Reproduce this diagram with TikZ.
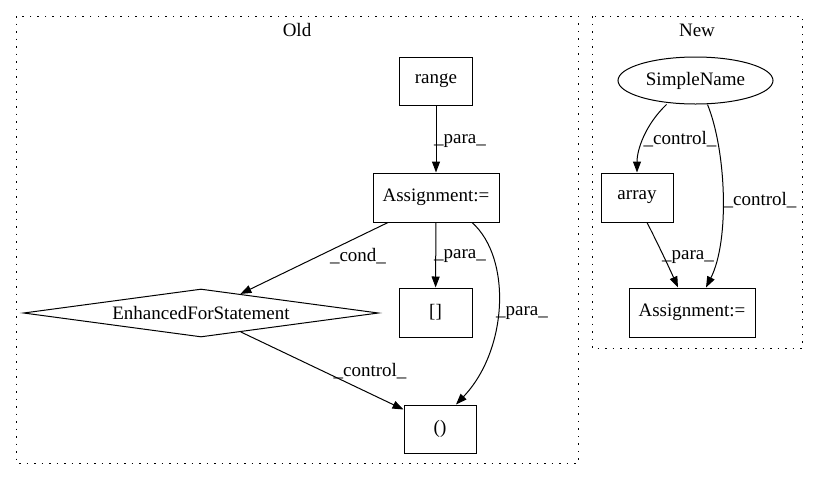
\documentclass[tikz,border=0pt]{standalone}
\usepackage{fontspec}
\setmainfont{Liberation Serif}
\usetikzlibrary{shapes.geometric,arrows.meta,calc}
\begin{document}
\begin{tikzpicture}[x=1pt,y=-1pt,
  every node/.style={font=\fontsize{19}{22}\selectfont, inner sep=0pt},
  box/.style={draw, line width=1pt, rectangle},
  cluster/.style={draw, line width=1pt, dash pattern=on 1.5pt off 6pt},
  arr/.style={draw, line width=1pt, -{Triangle[length=11pt,width=8pt]}},
  lbl/.style={fill=none}]
\useasboundingbox (0,0) rectangle (817,480);
\draw[cluster] (16,16) rectangle (578,463);
\draw[cluster] (592,16) rectangle (802,348);
\node (oldlbl) at (297,30) {Old};
\node (newlbl) at (697,30) {New};
% Old
\node[box, minimum width=73pt, minimum height=48pt] (range) at (436,81) {range};
\node[box, minimum width=126pt, minimum height=49pt] (asg) at (436,197.5) {Assignment:=};
\node[box, minimum width=73pt, minimum height=49pt] (brk) at (435.5,312.5) {[]};
\node[box, minimum width=72pt, minimum height=48pt] (paren) at (440,429) {()};
\node[draw, line width=1pt, diamond, aspect=7.4, minimum width=355pt, minimum height=48pt] (ef) at (201,313) {EnhancedForStatement};
% New
\node[draw, line width=1pt, ellipse, minimum width=155pt, minimum height=47pt] (sn) at (695.5,80.5) {SimpleName};
\node[box, minimum width=72pt, minimum height=49pt] (array) at (637,197.5) {array};
\node[box, minimum width=126pt, minimum height=49pt] (asg2) at (692,312.5) {Assignment:=};
% edges old
\draw[arr] (range) -- (asg);
\node[lbl] (l1) at (460,141) {\_para\_};
\draw[arr] (asg) -- (brk);
\node[lbl] (l2) at (460,256) {\_para\_};
\draw[arr] ($(asg.south)+(36,0)$) .. controls (512,258) and (508,350) .. ($(paren.north)+(16,0)$);
\node[lbl] (l3) at (522,313) {\_para\_};
\draw[arr] ($(asg.south)+(-48,0)$) -- (ef);
\node[lbl] (l4) at (358,256) {\_cond\_};
\draw[arr] (ef) -- ($(paren.north west)+(0,5)$);
\node[lbl] (l5) at (370,371) {\_control\_};
% edges new
\draw[arr] ($(sn.south)+(-29,0)$) .. controls (645,125) and (637,150) .. (array.north);
\node[lbl] (l6) at (680,139) {\_control\_};
\draw[arr] ($(sn.south)+(12,0)$) .. controls (726,150) and (730,240) .. ($(asg2.north)+(14,0)$);
\node[lbl] (l7) at (760,200) {\_control\_};
\draw[arr] ($(array.south)+(10,0)$) .. controls (656,240) and (668,265) .. ($(asg2.north)+(-14,0)$);
\node[lbl] (l8) at (688,257) {\_para\_};
\end{tikzpicture}
\end{document}
